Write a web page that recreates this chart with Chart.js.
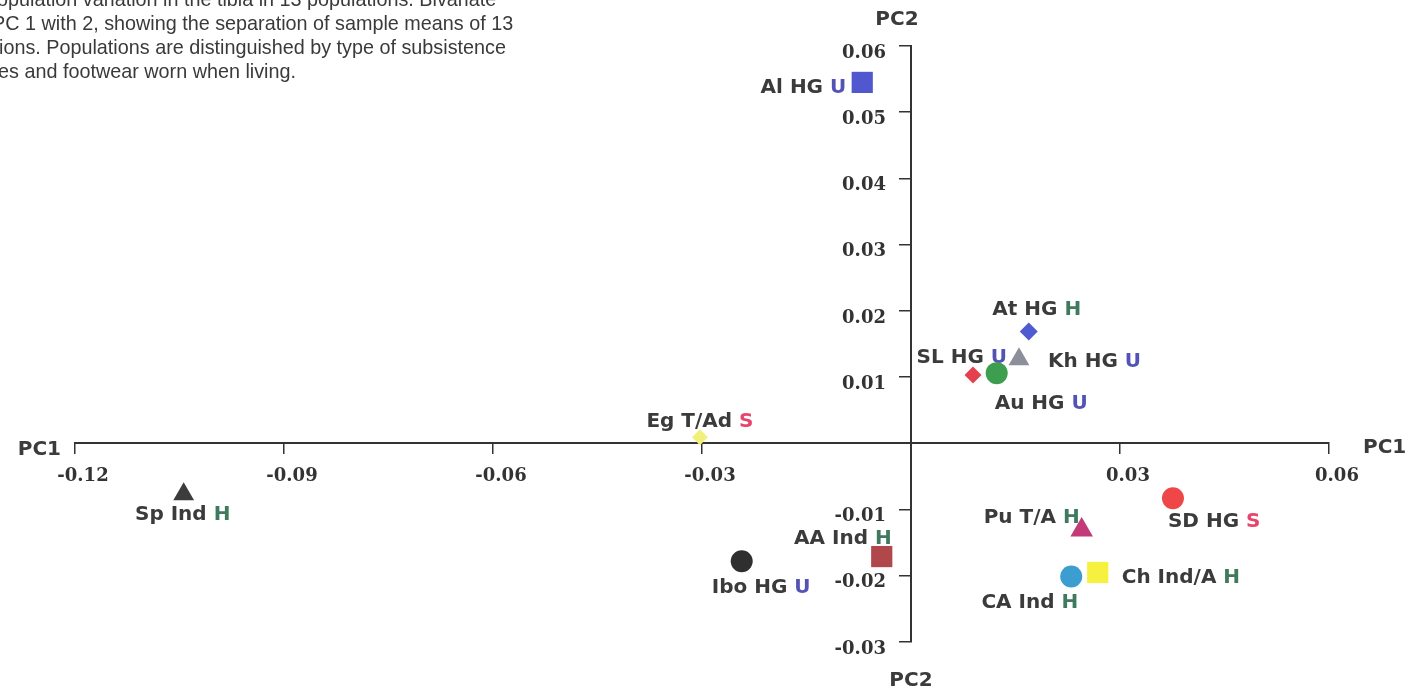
<!DOCTYPE html>
<html lang="en">

<head>
    <meta charset="UTF-8" />
    <title>PC1 vs PC2</title>
    <script src="https://cdn.jsdelivr.net/npm/chart.js"></script>
    <style>
        body {
            margin: 0;
            background: #ffffff;
        }

        #pcaChart {
            display: block;
        }
    </style>
</head>

<body>
    <canvas id="pcaChart" width="1410" height="693"></canvas>

    <script>
        // Sample means of the 13 populations on PC1 / PC2
        const populations = ["Al HG", "At HG", "Kh HG", "SL HG", "Au HG", "Eg T/Ad", "Sp Ind",
            "AA Ind", "Ibo HG", "Pu T/A", "SD HG", "Ch Ind/A", "CA Ind"];
        const footwear = ["U", "H", "U", "U", "U", "S", "H", "H", "U", "H", "S", "H", "H"];
        const pc1 = [-0.0070, 0.0169, 0.0155, 0.0089, 0.0123, -0.0303, -0.1044,
            -0.0042, -0.0243, 0.0245, 0.0376, 0.0268, 0.0230];
        const pc2 = [0.0545, 0.0169, 0.0127, 0.0103, 0.0106, 0.0009, -0.0077,
            -0.0171, -0.0178, -0.0131, -0.0083, -0.0195, -0.0201];

        // Axis ticks (no label at the origin)
        const pc1Ticks = [-0.12, -0.09, -0.06, -0.03, 0.03, 0.06];
        const pc1TickLabels = ["-0.12", "-0.09", "-0.06", "-0.03", "0.03", "0.06"];
        const pc2Ticks = [-0.03, -0.02, -0.01, 0.01, 0.02, 0.03, 0.04, 0.05, 0.06];
        const pc2TickLabels = ["-0.03", "-0.02", "-0.01", "0.01", "0.02", "0.03", "0.04", "0.05", "0.06"];

        // Caption fragment at the top left (cut off in the source)
        const captionLines = [
            "opulation variation in the tibia in 13 populations. Bivariate",
            "PC 1 with 2, showing the separation of sample means of 13",
            "ions. Populations are distinguished by type of subsistence",
            "es and footwear worn when living."
        ];

        // Marker look per population
        const markerStyle = ["rect", "rectRot", "triangle", "rectRot", "circle", "rectRot", "triangle",
            "rect", "circle", "triangle", "circle", "rect", "circle"];
        const markerColor = ["#5158cf", "#4f5bd0", "#8c8e9c", "#e5404f", "#3e9e4f", "#f1f07a", "#3c3c3c",
            "#b0474a", "#2f2f2f", "#c33a78", "#ef4747", "#f6f13f", "#3c9ed0"];
        const markerRadius = [15, 9, 12, 8.5, 11, 8, 12, 15, 11, 13, 11, 15, 11];

        // Label placement: offset from point to text, baseline, alignment
        const labelPlace = [
            [-16, 11, "right"], [8, -16, "center"], [29, 8, "left"], [34, -12, "right"],
            [-2, 36, "left"], [0, -10, "center"], [-1, 26, "center"], [10, -13, "right"],
            [-30, 32, "left"], [-2, -7, "right"], [-5, 29, "left"], [24, 11, "left"],
            [7, 32, "right"]
        ];
        const codeColor = { U: "#5353b6", H: "#3f7a5f", S: "#e8456c" };

        const points = pc1.map((x, i) => ({ x: x, y: pc2[i] }));

        const labelPlugin = {
            id: "pointLabels",
            beforeDatasetsDraw(chart) {
                const ctx = chart.ctx;
                const meta = chart.getDatasetMeta(0);
                ctx.save();
                ctx.font = "bold 20px 'DejaVu Sans'";
                ctx.textAlign = "left";
                ctx.textBaseline = "alphabetic";
                meta.data.forEach((pt, i) => {
                    const name = populations[i] + " ";
                    const code = footwear[i];
                    const wName = ctx.measureText(name).width;
                    const total = wName + ctx.measureText(code).width;
                    const place = labelPlace[i];
                    let x = pt.x + place[0];
                    if (place[2] === "right") x -= total;
                    if (place[2] === "center") x -= total / 2;
                    const y = pt.y + place[1];
                    ctx.fillStyle = "#3b3b3b";
                    ctx.fillText(name, x, y);
                    ctx.fillStyle = codeColor[code];
                    ctx.fillText(code, x + wName, y);
                });
                ctx.restore();
            }
        };

        const textPlugin = {
            id: "extraText",
            afterDraw(chart) {
                const ctx = chart.ctx;
                const xs = chart.scales.x;
                const ys = chart.scales.y;
                ctx.save();
                // caption
                ctx.font = "19.8px 'Liberation Sans'";
                ctx.fillStyle = "#3a3a3a";
                ctx.textAlign = "left";
                ctx.textBaseline = "alphabetic";
                const captionX = [-3, -8, -1, -2];
                captionLines.forEach((line, i) => ctx.fillText(line, captionX[i], 6 + i * 24));
                // axis names at both ends
                ctx.font = "bold 20px 'DejaVu Sans'";
                ctx.fillStyle = "#3b3b3b";
                ctx.textAlign = "center";
                const x0 = xs.getPixelForValue(0);
                const y0 = ys.getPixelForValue(0);
                ctx.fillText("PC2", x0 - 14, ys.top - 21);
                ctx.fillText("PC2", x0, ys.bottom + 44);
                ctx.textAlign = "right";
                ctx.fillText("PC1", xs.left - 14, y0 + 12);
                ctx.textAlign = "left";
                ctx.fillText("PC1", xs.right + 34, y0 + 10);
                ctx.restore();
            }
        };

        const tickFont = { family: "'DejaVu Serif'", size: 18, weight: "bold" };
        // y labels sit right on the axis when it is placed at x = 0, so pad them
        const yLabelGap = "\u00a0\u00a0\u00a0\u00a0";

        const config = {
            type: "scatter",
            data: {
                datasets: [{
                    data: points,
                    pointStyle: markerStyle,
                    backgroundColor: markerColor,
                    borderColor: markerColor,
                    borderWidth: 0,
                    pointRadius: markerRadius,
                }]
            },
            options: {
                responsive: false,
                animation: false,
                devicePixelRatio: 1,
                layout: {
                    padding: { left: 75, right: 81, top: 46, bottom: 51 }
                },
                plugins: {
                    legend: { display: false },
                    tooltip: { enabled: false }
                },
                scales: {
                    x: {
                        type: "linear",
                        min: -0.12,
                        max: 0.06,
                        position: { y: 0 },
                        afterFit(scale) { scale.height = 0; },
                        afterBuildTicks(scale) { scale.ticks = pc1Ticks.map(v => ({ value: v })); },
                        grid: { drawOnChartArea: false, drawTicks: true, tickLength: 10, color: "#333333", lineWidth: 1.5 },
                        border: { display: true, color: "#333333", width: 2 },
                        ticks: {
                            font: tickFont,
                            color: "#333333",
                            padding: 12,
                            labelOffset: 8,
                            maxRotation: 0,
                            autoSkip: false,
                            callback: (v, i) => pc1TickLabels[i]
                        }
                    },
                    y: {
                        type: "linear",
                        min: -0.03,
                        max: 0.06,
                        position: { x: 0 },
                        afterFit(scale) { scale.width = 0; },
                        afterBuildTicks(scale) { scale.ticks = pc2Ticks.map(v => ({ value: v })); },
                        grid: { drawOnChartArea: false, drawTicks: true, tickLength: 11, color: "#333333", lineWidth: 1.5 },
                        border: { display: true, color: "#333333", width: 2 },
                        ticks: {
                            font: tickFont,
                            color: "#333333",
                            padding: 10,
                            labelOffset: 7,
                            autoSkip: false,
                            callback: (v, i) => pc2TickLabels[i] + yLabelGap
                        }
                    }
                }
            },
            plugins: [labelPlugin, textPlugin]
        };

        new Chart(document.getElementById("pcaChart").getContext("2d"), config);
    </script>
</body>

</html>
